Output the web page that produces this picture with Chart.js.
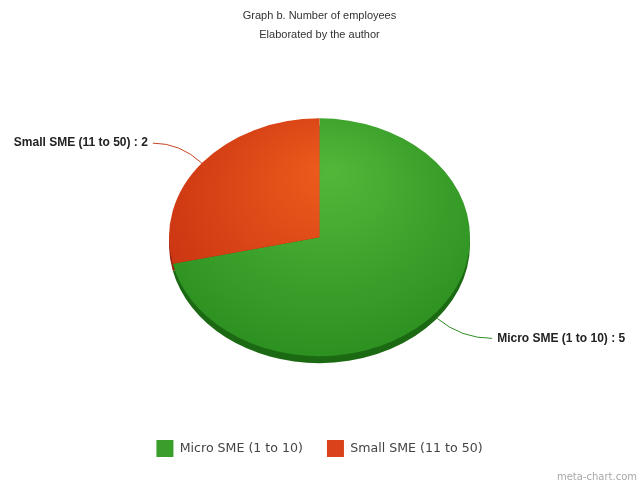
<!DOCTYPE html>
<html>
<head>
<meta charset="utf-8">
<script src="https://cdn.jsdelivr.net/npm/chart.js@4.4.1/dist/chart.umd.min.js"></script>
<style>
  html, body { margin: 0; padding: 0; background: #fff; }
  #wrap { width: 644px; height: 483px; }
</style>
</head>
<body>
<div id="wrap"><canvas id="chart" width="644" height="483"></canvas></div>
<script>
// data
const categories = ['Micro SME (1 to 10)', 'Small SME (11 to 50)'];
const employees = [5, 2];
const titleLines = ['Graph b. Number of employees', 'Elaborated by the author'];
const sourceNote = 'meta-chart.com';

// look
const ELLIPSE = 0.79;   // vertical squash of the pie
const DEPTH = 7;        // 3d rim thickness
const LEADER_DX_LEFT = 54, LEADER_DX_RIGHT = 60, LEADER_DY = 20;
const fills = [
  { light: '#52b83a', dark: '#23871a', side: '#1b6a13', line: '#2f8a24', legend: '#3a9f2a' },
  { light: '#ee5d1c', dark: '#bf270f', side: '#94200c', line: '#c4441f', legend: '#d9421a' }
];

function sliceFill(c) {
  const f = fills[c.dataIndex % fills.length];
  const chart = c.chart, a = chart.chartArea;
  if (!a) return f.dark;
  const cx = (a.left + a.right) / 2, cy = (a.top + a.bottom) / 2;
  const g = chart.ctx.createRadialGradient(cx + 12, cy - 85, 0, cx, cy - 20, 230);
  g.addColorStop(0, f.light);
  g.addColorStop(1, f.dark);
  return g;
}

// squash the pie into an ellipse and add the rim underneath
const ellipsePie = {
  id: 'ellipsePie',
  beforeDatasetsDraw(chart) {
    const ctx = chart.ctx;
    const meta = chart.getDatasetMeta(0);
    if (!meta.data.length) return;
    const cx = meta.data[0].x, cy = meta.data[0].y;
    ctx.save();
    ctx.translate(cx, cy);
    ctx.scale(1, ELLIPSE);
    ctx.translate(-cx, -cy);
    const d = DEPTH / ELLIPSE;
    meta.data.forEach((el, i) => {
      ctx.beginPath();
      ctx.moveTo(el.x, el.y + d);
      ctx.arc(el.x, el.y + d, el.outerRadius, el.startAngle, el.endAngle);
      ctx.closePath();
      ctx.fillStyle = fills[i % fills.length].side;
      ctx.fill();
    });
  },
  afterDatasetsDraw(chart) {
    chart.ctx.restore();
  }
};

// outside labels with curved connectors, plus the source note
const outsideLabels = {
  id: 'outsideLabels',
  afterDraw(chart) {
    const ctx = chart.ctx;
    const meta = chart.getDatasetMeta(0);
    ctx.save();
    meta.data.forEach((el, i) => {
      const mid = (el.startAngle + el.endAngle) / 2;
      const cos = Math.cos(mid), sin = Math.sin(mid);
      const ex = el.x + cos * el.outerRadius;
      const ey = el.y + sin * el.outerRadius * ELLIPSE + (sin > 0 ? DEPTH : 0);
      const hs = cos >= 0 ? 1 : -1;
      const vs = sin >= 0 ? 1 : -1;
      const dx = hs > 0 ? LEADER_DX_RIGHT : LEADER_DX_LEFT;
      const lx = ex + hs * dx, ly = ey + vs * LEADER_DY;
      ctx.strokeStyle = fills[i % fills.length].line;
      ctx.lineWidth = 1;
      ctx.beginPath();
      ctx.moveTo(ex, ey);
      ctx.quadraticCurveTo(ex + hs * dx * 0.4, ly, lx - hs * 5, ly);
      ctx.stroke();
      ctx.font = 'bold 12px "Liberation Sans", Arial, sans-serif';
      ctx.fillStyle = '#222';
      ctx.textBaseline = 'middle';
      ctx.textAlign = hs > 0 ? 'left' : 'right';
      ctx.fillText(categories[i] + ' : ' + employees[i], lx, ly);
    });
    ctx.font = '10px "DejaVu Sans", sans-serif';
    ctx.fillStyle = '#a8a8a8';
    ctx.textAlign = 'right';
    ctx.textBaseline = 'middle';
    ctx.fillText(sourceNote, 637, 477);
    ctx.restore();
  }
};

new Chart(document.getElementById('chart'), {
  type: 'pie',
  data: {
    labels: categories,
    datasets: [{
      data: employees,
      backgroundColor: sliceFill,
      borderWidth: 0,
      radius: 150.5
    }]
  },
  options: {
    responsive: false,
    animation: false,
    layout: { padding: { right: 5, bottom: 16 } },
    plugins: {
      tooltip: { enabled: false },
      title: {
        display: true,
        text: titleLines,
        color: '#333',
        font: { family: '"Liberation Sans", Arial, sans-serif', size: 11, weight: 'normal', lineHeight: 1.75 },
        padding: { top: 6, bottom: 14 }
      },
      legend: {
        position: 'bottom',
        labels: {
          boxWidth: 17,
          boxHeight: 17,
          padding: 24,
          color: '#444',
          font: { family: '"DejaVu Sans", sans-serif', size: 12.6 },
          generateLabels(chart) {
            const items = Chart.overrides.pie.plugins.legend.labels.generateLabels(chart);
            items.forEach((it, i) => {
              it.fillStyle = fills[i % fills.length].legend;
              it.strokeStyle = fills[i % fills.length].legend;
              it.lineWidth = 0;
            });
            return items;
          }
        }
      }
    }
  },
  plugins: [ellipsePie, outsideLabels]
});
</script>
</body>
</html>
